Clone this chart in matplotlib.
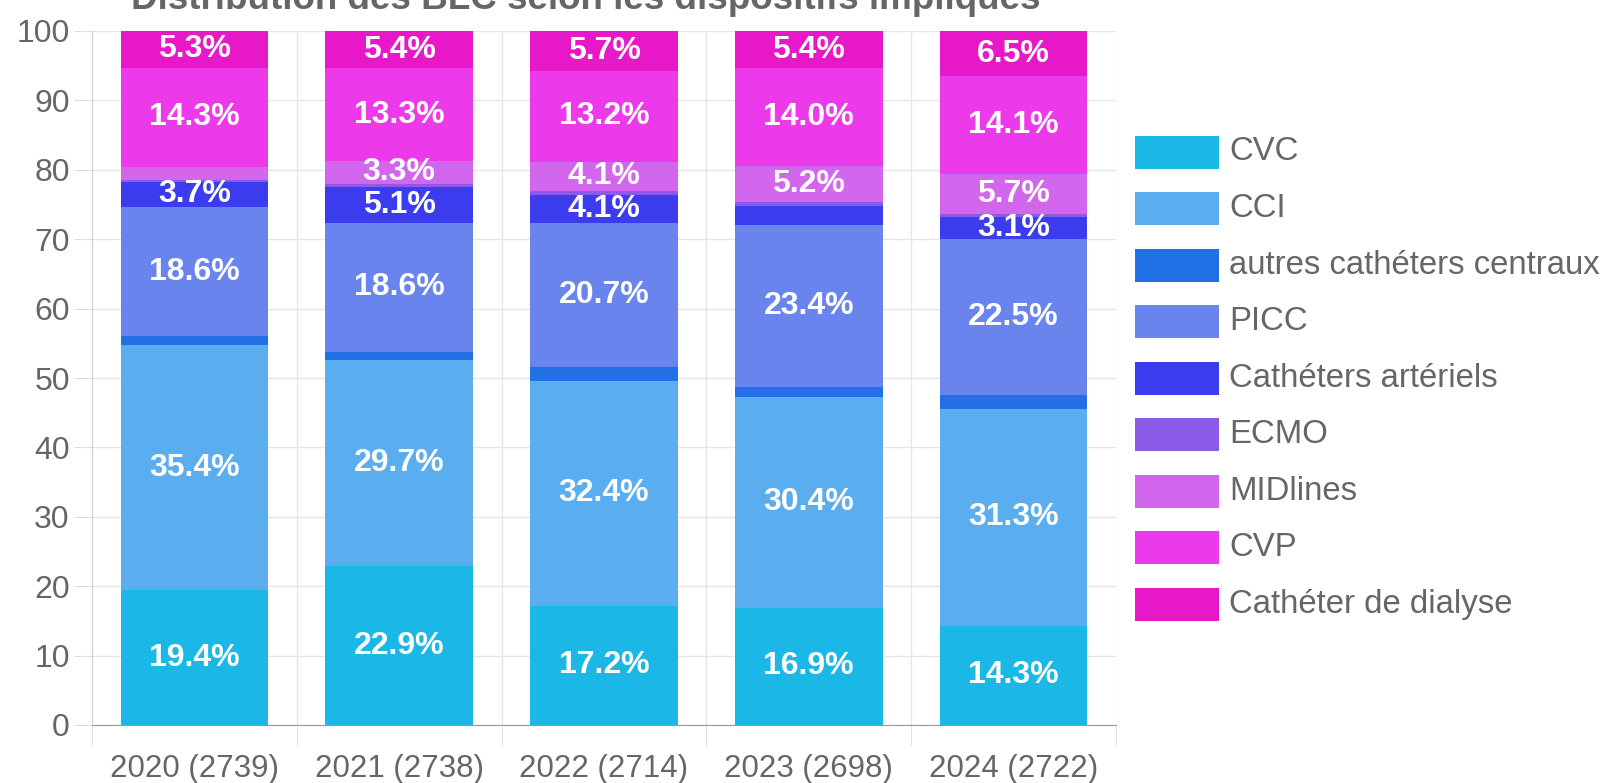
import matplotlib
matplotlib.use("Agg")
import matplotlib.pyplot as plt
from matplotlib.patches import Rectangle
import numpy as np

plt.rcParams['font.family'] = ['Liberation Sans', 'DejaVu Sans']

categories = ["2020 (2739)", "2021 (2738)", "2022 (2714)", "2023 (2698)", "2024 (2722)"]
series_names = ["CVC", "CCI", "autres cathéters centraux", "PICC", "Cathéters artériels",
                "ECMO", "MIDlines", "CVP", "Cathéter de dialyse"]
cvc = [19.4, 22.9, 17.2, 16.9, 14.3]
cci = [35.4, 29.7, 32.4, 30.4, 31.3]
autres = [1.2, 1.2, 2.0, 1.4, 2.0]
picc = [18.6, 18.6, 20.7, 23.4, 22.5]
arteriels = [3.7, 5.1, 4.1, 2.7, 3.1]
ecmo = [0.3, 0.5, 0.6, 0.6, 0.5]
midlines = [1.8, 3.3, 4.1, 5.2, 5.7]
cvp = [14.3, 13.3, 13.2, 14.0, 14.1]
dialyse = [5.3, 5.4, 5.7, 5.4, 6.5]
series = [cvc, cci, autres, picc, arteriels, ecmo, midlines, cvp, dialyse]
colors = ["#1ab7e7", "#5aadef", "#2270e6", "#6a84ee", "#3c3cef",
          "#8b5ae8", "#d266ec", "#ec3aea", "#e718c8"]
title = "Distribution des BLC selon les dispositifs impliqués"

W, H = 1606, 783
fig = plt.figure(figsize=(W / 100, H / 100), dpi=100)
ax = fig.add_axes([92 / W, 58 / H, (1116 - 92) / W, (725 - 31) / H])

x = np.arange(len(categories))
bottom = np.zeros(len(categories))
for vals, col in zip(series, colors):
    v = np.array(vals)
    ax.bar(x, v, width=0.72, bottom=bottom, color=col, zorder=3, linewidth=0)
    for xi, b, val in zip(x, bottom, v):
        if val >= 3.0:
            ax.text(xi, b + val / 2, f"{val:.1f}%", ha='center', va='center',
                    color='white', fontsize=23, fontweight='bold', zorder=4)
    bottom += v

ax.set_xlim(-0.5, len(categories) - 0.5)
ax.set_ylim(0, 100)
ax.set_yticks(np.arange(0, 101, 10))
ax.set_xticks(x)
ax.set_xticklabels(categories)
ax.set_xticks(np.arange(-0.5, len(categories)), minor=True)

for s in ['top', 'right']:
    ax.spines[s].set_visible(False)
ax.spines['left'].set_color('#d0d0d0')
ax.spines['bottom'].set_color('#999999')

ax.grid(axis='y', which='major', color='#e6e6e6', linewidth=1, zorder=0)
ax.grid(axis='x', which='minor', color='#e6e6e6', linewidth=1, zorder=0)
ax.tick_params(axis='y', labelsize=23, labelcolor='#666666', color='#dddddd', length=13, pad=3)
ax.tick_params(axis='x', which='major', labelsize=22.5, labelcolor='#666666', length=0, pad=21)
ax.tick_params(axis='x', which='minor', color='#dddddd', length=15)

# Legend
box_left, box_w, box_h = 1135, 84, 33
y0, dy = 152, 56.5
for i, (name, col) in enumerate(zip(series_names, colors)):
    yc = y0 + i * dy
    fig.patches.append(Rectangle((box_left / W, 1 - (yc + box_h / 2) / H), box_w / W, box_h / H,
                                 transform=fig.transFigure, facecolor=col, edgecolor='none'))
    fig.text(1229 / W, 1 - yc / H, name, ha='left', va='center', fontsize=23.7, color='#666666')

fig.text(586 / W, 1 - 9 / H, title, ha='center', va='baseline', fontsize=26.5,
         fontweight='bold', color='#666666')

fig.savefig("out.png", dpi=100)
